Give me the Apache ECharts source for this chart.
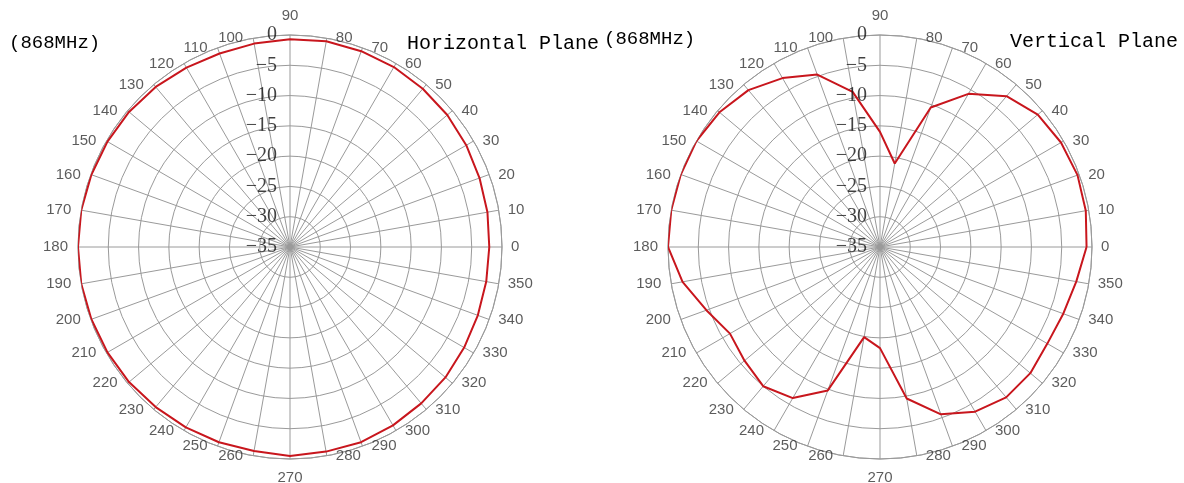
<!DOCTYPE html>
<html>
<head>
<meta charset="utf-8">
<script src="https://cdn.jsdelivr.net/npm/echarts@6/dist/echarts.min.js"></script>
<style>html,body{margin:0;padding:0;background:#fff;}#c{width:1184px;height:483px;}</style>
</head>
<body>
<div id="c"></div>
<script>
const angles = [0,10,20,30,40,50,60,70,80,90,100,110,120,130,140,150,160,170,180,190,200,210,220,230,240,250,260,270,280,290,300,310,320,330,340,350];
const horizontal = [-2.1,-1.9,-1.7,-1.4,-1.1,-0.9,-0.7,-0.6,-0.5,-0.7,-0.9,-1.0,-0.8,-0.5,-0.3,-0.2,-0.1,0,0,0,-0.1,-0.2,-0.3,-0.5,-0.6,-0.7,-0.8,-0.5,-0.7,-0.7,-1.0,-1.3,-1.5,-1.8,-2.0,-2.1];
const vertical = [-0.9,-0.5,-0.3,-0.5,-1.0,-2.5,-5.8,-10.5,-21,-16,-9.0,-4.7,-2.8,-1.2,-0.4,0,0,0,0,-1.9,-4.5,-6.4,-5.8,-5.0,-6.2,-9.8,-19.9,-18.3,-9.6,-5.6,-3.6,-2.6,-2.6,-3.1,-2.8,-2.1];
const radialTicks = [0,-5,-10,-15,-20,-25,-30,-35];
const angleTicks = [0,10,20,30,40,50,60,70,80,90,100,110,120,130,140,150,160,170,180,190,200,210,220,230,240,250,260,270,280,290,300,310,320,330,340,350];
const frequencyLabel = '(868MHz)';
const titles = ['Horizontal Plane', 'Vertical Plane'];

const gridColor = '#9a9a9a';
const lineColor = '#c8161d';
const centers = [[290,247],[880,247]];

function closed(vals){
  const d = angles.map((a,i)=>[vals[i], a]);
  d.push([vals[0], 360]);
  return d;
}
function fmtDb(v){ return v === 0 ? '0' : '\u2212' + Math.abs(v); }
function labelPos(a){
  if (a === 90) return {position:'top', distance:12};
  if (a === 270) return {position:'bottom', distance:11};
  const c = Math.cos(a*Math.PI/180);
  return c > 0 ? {position:'right', distance:9} : {position:'left', distance:10};
}

const polar = centers.map(c=>({center:c, radius:212}));
const angleAxis = [0,1].map(i=>({
  polarIndex:i, type:'value', min:0, max:360, interval:10, startAngle:0, clockwise:false,
  axisLine:{show:true, lineStyle:{color:gridColor, width:1}},
  axisTick:{show:false},
  axisLabel:{show:false},
  splitLine:{show:true, lineStyle:{color:gridColor, width:1}}
}));
const radiusAxis = [0,1].map(i=>({
  polarIndex:i, type:'value', min:-35, max:0, interval:5,
  axisLine:{show:false}, axisTick:{show:false}, axisLabel:{show:false},
  splitLine:{show:true, lineStyle:{color:gridColor, width:1}}
}));

const series = [];
[horizontal, vertical].forEach((vals,i)=>{
  series.push({
    type:'line', coordinateSystem:'polar', polarIndex:i, data:closed(vals),
    symbol:'none', smooth:false, lineStyle:{color:lineColor, width:2}, z:5, silent:true
  });
  series.push({
    type:'scatter', coordinateSystem:'polar', polarIndex:i,
    data: radialTicks.map(t=>[t,90]), symbolSize:0, silent:true, z:6,
    label:{show:true, position:'left', distance:13, formatter:p=>fmtDb(p.value[0]),
      fontFamily:'Liberation Serif', fontSize:20, color:'#111'}
  });
  series.push({
    type:'scatter', coordinateSystem:'polar', polarIndex:i,
    data: angleTicks.map(a=>({value:[0,a], label:labelPos(a)})), symbolSize:0, silent:true, z:6,
    label:{show:true, formatter:p=>String(p.value[1]),
      fontFamily:'Liberation Sans', fontSize:15, color:'#333'}
  });
});

const titleStyle = {fontFamily:'Liberation Mono', fontSize:20, color:'#000', fontWeight:'normal'};
const freqStyle = {fontFamily:'Liberation Mono', fontSize:19, color:'#000', fontWeight:'normal'};
const option = {
  animation:false,
  backgroundColor:'#fff',
  polar, angleAxis, radiusAxis, series,
  title:[
    {text:frequencyLabel, left:4, top:28, textStyle:freqStyle},
    {text:titles[0], left:402, top:29, textStyle:titleStyle},
    {text:frequencyLabel, left:599, top:24, textStyle:freqStyle},
    {text:titles[1], left:1005, top:27, textStyle:titleStyle}
  ]
};
const chart = echarts.init(document.getElementById('c'), null, {renderer:'canvas'});
chart.setOption(option);
</script>
</body>
</html>
